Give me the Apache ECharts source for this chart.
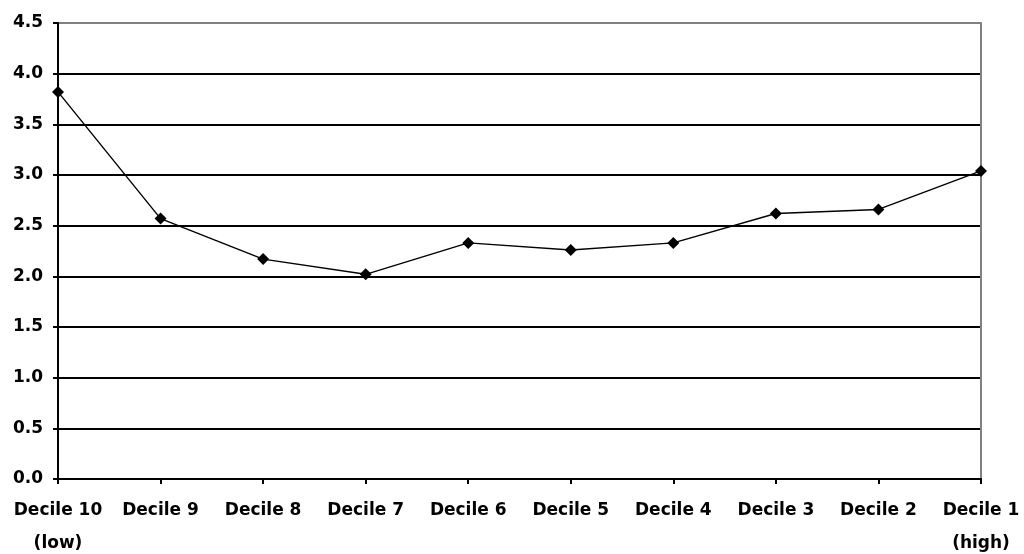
<!DOCTYPE html>
<html>
<head>
<meta charset="utf-8">
<script src="https://cdn.jsdelivr.net/npm/echarts@6/dist/echarts.min.js"></script>
<style>
  html, body { margin: 0; padding: 0; background: #fff; }
  #chart { width: 1024px; height: 554px; }
</style>
</head>
<body>
<div id="chart"></div>
<script>
// Deciles, from lowest to highest
const categories = ['Decile 10\n(low)', 'Decile 9', 'Decile 8', 'Decile 7', 'Decile 6',
                    'Decile 5', 'Decile 4', 'Decile 3', 'Decile 2', 'Decile 1\n(high)'];
const values = [3.82, 2.57, 2.17, 2.02, 2.33, 2.26, 2.33, 2.62, 2.66, 3.04];
const yTicks = { min: 0, max: 4.5, interval: 0.5 };

const labelFont = { fontFamily: 'DejaVu Sans', fontWeight: 'bold', fontSize: 17, color: '#000' };

// Horizontal gridlines: black, except the top one which is grey
const gridColors = [];
for (let v = yTicks.min; v <= yTicks.max + 1e-9; v += yTicks.interval) {
  gridColors.push(Math.abs(v - yTicks.max) < 1e-9 ? '#808080' : '#000');
}

const chart = echarts.init(document.getElementById('chart'));
chart.setOption({
  backgroundColor: '#fff',
  animation: false,
  grid: { left: 58, right: 43, top: 23, bottom: 75, containLabel: false, outerBoundsMode: 'none' },
  xAxis: {
    type: 'category',
    data: categories,
    boundaryGap: false,
    axisLine: { show: true, lineStyle: { color: '#000', width: 2 } },
    axisTick: { show: true, length: 5, lineStyle: { color: '#000', width: 2 } },
    axisLabel: Object.assign({ margin: 15, lineHeight: 33, interval: 0 }, labelFont),
    splitLine: { show: false }
  },
  yAxis: [
    {
      type: 'value',
      min: yTicks.min, max: yTicks.max, interval: yTicks.interval,
      axisLine: { show: true, lineStyle: { color: '#000', width: 2 } },
      axisTick: { show: true, length: 5, lineStyle: { color: '#000', width: 2 } },
      axisLabel: Object.assign({ margin: 15, formatter: v => v.toFixed(1) }, labelFont),
      splitLine: { show: true, lineStyle: { color: gridColors, width: 2 } }
    },
    {
      // right-hand plot border
      type: 'value', position: 'right',
      min: yTicks.min, max: yTicks.max, interval: yTicks.interval,
      axisLine: { show: true, lineStyle: { color: '#808080', width: 2 } },
      axisTick: { show: false }, axisLabel: { show: false }, splitLine: { show: false }
    }
  ],
  series: [{
    type: 'line',
    data: values,
    yAxisIndex: 0,
    symbol: 'diamond',
    symbolSize: 12,
    itemStyle: { color: '#000' },
    lineStyle: { color: '#000', width: 1.4 },
    z: 5
  }]
});
</script>
</body>
</html>
